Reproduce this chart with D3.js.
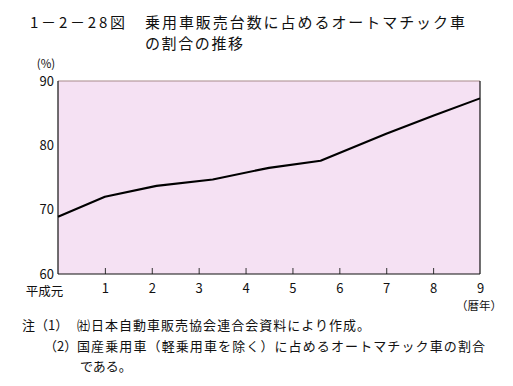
<!DOCTYPE html>
<html><head><meta charset="utf-8">
<script src="https://cdn.jsdelivr.net/npm/d3@7/dist/d3.min.js"></script>
<style>
html,body{margin:0;padding:0;background:#fff;}
svg{display:block;}
text{font-family:"Noto Sans CJK JP","Noto Sans",sans-serif;fill:#111;}
</style></head>
<body><svg id="c" width="513" height="386"></svg>
<script>
// data
const xPos   = [0, 1, 2.1, 3.3, 4.5, 5.6, 7, 8, 9];
const shares = [68.9, 72.0, 73.7, 74.7, 76.5, 77.6, 81.8, 84.6, 87.3];
const xTicks = [0, 1, 2, 3, 4, 5, 6, 7, 8, 9];
const xTickLabels = ["平成元", "1", "2", "3", "4", "5", "6", "7", "8", "9"];
const yTicks = [60, 70, 80, 90];
const titleNo = "1－2－28図";
const titleL1 = "乗用車販売台数に占めるオートマチック車";
const titleL2 = "の割合の推移";
const notes = [
  ["注（1）", "㈳日本自動車販売協会連合会資料により作成。"],
  ["（2）", "国産乗用車（軽乗用車を除く）に占めるオートマチック車の割合"],
  ["", "である。"]
];

const svg = d3.select("#c");
const L = 58, R = 480, T = 81, B = 274;
const x = d3.scaleLinear().domain([0, 9]).range([L, R]);
const y = d3.scaleLinear().domain([60, 90]).range([B, T]);

// title
const titleFont = "Liberation Sans, Noto Sans CJK JP, sans-serif";
svg.append("text").attr("x", 30).attr("y", 27.5).attr("font-size", 15)
  .attr("font-family", titleFont)
  .attr("textLength", 95).attr("lengthAdjust", "spacing").text(titleNo);
svg.append("text").attr("x", 145).attr("y", 27.5).attr("font-size", 15)
  .attr("font-family", titleFont)
  .attr("textLength", 320).attr("lengthAdjust", "spacing").text(titleL1);
svg.append("text").attr("x", 145).attr("y", 48.5).attr("font-size", 15)
  .attr("font-family", titleFont)
  .attr("textLength", 98).attr("lengthAdjust", "spacing").text(titleL2);

// plot background
svg.append("rect").attr("x", L).attr("y", T).attr("width", R - L).attr("height", B - T)
  .attr("fill", "#f5e1f3");

// axes
const gx = svg.append("g").attr("transform", `translate(0,${B})`)
  .call(d3.axisBottom(x).tickValues(xTicks).tickSize(-6).tickPadding(10)
    .tickFormat((d, i) => xTickLabels[i]));
gx.select(".domain").remove();
gx.selectAll(".tick line").attr("stroke", "#333").filter(d => d === 0 || d === 9).remove();
gx.selectAll(".tick text").attr("font-size", 13).attr("fill", "#111")
  .attr("font-family", "Liberation Sans, Arial, sans-serif");
gx.selectAll(".tick text").filter(d => d === 0)
  .attr("dx", -14).attr("y", 13).attr("font-size", 12.5)
  .attr("font-family", "Noto Sans CJK JP, sans-serif");

const gy = svg.append("g").attr("transform", `translate(${L},0)`)
  .call(d3.axisLeft(y).tickValues(yTicks).tickSize(0).tickPadding(4));
gy.select(".domain").remove();
gy.selectAll(".tick text").attr("font-size", 13).attr("fill", "#111")
  .attr("font-family", "Liberation Sans, Arial, sans-serif");

// frame
svg.append("line").attr("x1", L).attr("x2", R).attr("y1", T).attr("y2", T)
  .attr("stroke", "#a88a8a").attr("stroke-width", 1.2);
svg.append("line").attr("x1", L).attr("x2", L).attr("y1", T).attr("y2", B)
  .attr("stroke", "#111").attr("stroke-width", 1.2);
svg.append("line").attr("x1", R).attr("x2", R).attr("y1", T).attr("y2", B)
  .attr("stroke", "#111").attr("stroke-width", 1.2);
svg.append("line").attr("x1", L).attr("x2", R).attr("y1", B).attr("y2", B)
  .attr("stroke", "#111").attr("stroke-width", 1.2);

// unit labels
svg.append("text").attr("x", 46).attr("y", 68).attr("font-size", 11.5)
  .attr("font-family", "Liberation Sans, Arial, sans-serif")
  .attr("text-anchor", "middle").text("(%)");
svg.append("text").attr("x", 479).attr("y", 310).attr("font-size", 11.5)
  .attr("text-anchor", "middle").text("（暦年）");

// line
const line = d3.line().x((d, i) => x(xPos[i])).y(d => y(d));
svg.append("path").datum(shares).attr("d", line)
  .attr("fill", "none").attr("stroke", "#000").attr("stroke-width", 2.1)
  .attr("stroke-linejoin", "round");

// notes
const noteY = [330, 351, 371];
const labelX = [22, 44, 0];
const noteLen = [293, 408, 0];
notes.forEach((n, i) => {
  if (n[0]) svg.append("text").attr("x", labelX[i]).attr("y", noteY[i])
    .attr("font-size", 13).text(n[0]);
  const t = svg.append("text").attr("x", i === 2 ? 80 : 77).attr("y", noteY[i])
    .attr("font-size", 13).text(n[1]);
  if (noteLen[i]) t.attr("textLength", noteLen[i]).attr("lengthAdjust", "spacing");
});
</script></body></html>
